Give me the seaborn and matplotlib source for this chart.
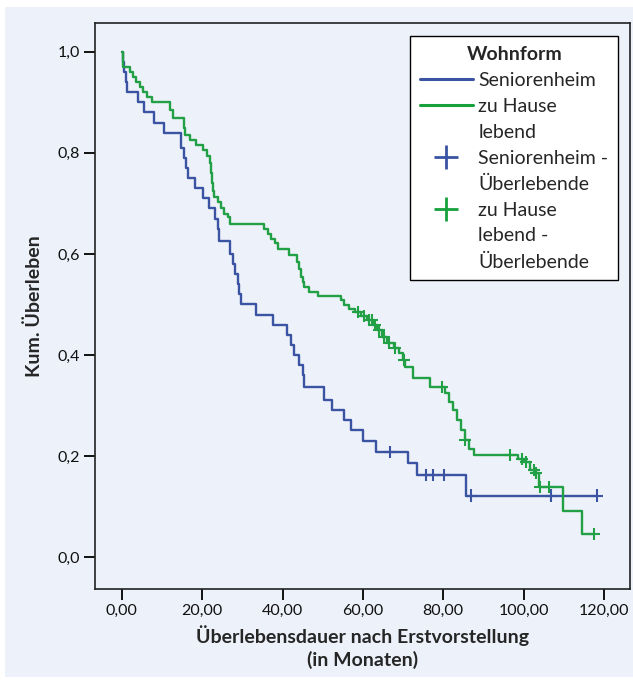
import numpy as np
import pandas as pd
import matplotlib
matplotlib.use("Agg")
import matplotlib.pyplot as plt
from matplotlib.lines import Line2D
from matplotlib.patches import Rectangle
import seaborn as sns

# ---- data ----
groups = ["Seniorenheim", "zu Hause lebend"]

heim_t = [0.0, 0.3, 0.6, 1.0, 1.2, 4.0, 5.6, 8.1, 10.6, 14.8, 15.5, 16.0, 16.5, 18.2,
          20.3, 21.6, 23.3, 23.8, 24.2, 27.0, 27.7, 28.2, 28.8, 29.2, 29.6, 33.4, 37.5,
          41.2, 42.0, 42.8, 44.2, 45.0, 45.3, 50.4, 52.4, 55.4, 57.0, 60.0, 63.2, 71.2,
          73.5, 85.7, 118.2]
heim_s = [1.0, 0.98, 0.96, 0.94, 0.92, 0.90, 0.88, 0.86, 0.84, 0.81, 0.79, 0.77, 0.75, 0.73,
          0.71, 0.69, 0.67, 0.65, 0.625, 0.60, 0.58, 0.56, 0.54, 0.52, 0.50, 0.48, 0.46,
          0.44, 0.42, 0.40, 0.38, 0.36, 0.337, 0.311, 0.291, 0.271, 0.251, 0.229, 0.209, 0.186,
          0.162, 0.122, 0.122]

haus_t = [0.0, 0.3, 2.0, 2.8, 3.6, 4.5, 5.3, 6.2, 7.5, 11.9, 12.8, 15.5, 15.8, 17.0, 18.5,
          20.2, 21.3, 22.0, 22.3, 22.5, 22.7, 23.0, 23.8, 24.7, 25.5, 26.3, 27.0, 35.5, 36.3,
          37.2, 38.0, 38.8, 41.5, 43.7, 44.0, 44.5, 45.0, 45.4, 46.6, 48.7, 54.5, 55.3, 56.5,
          58.0, 59.5, 61.0, 62.5, 63.5, 64.8, 66.0, 67.7, 69.0, 70.0, 70.5, 72.4, 76.7, 80.5,
          81.5, 82.5, 83.5, 84.5, 85.3, 86.5, 87.7, 98.7, 100.0, 101.5, 102.8, 103.8, 109.8,
          114.6, 117.5]
haus_s = [1.0, 0.97, 0.96, 0.95, 0.94, 0.93, 0.92, 0.91, 0.90, 0.885, 0.87, 0.85, 0.835, 0.825,
          0.815, 0.805, 0.793, 0.78, 0.76, 0.74, 0.725, 0.713, 0.703, 0.69, 0.68, 0.673, 0.66,
          0.65, 0.64, 0.63, 0.622, 0.61, 0.598, 0.585, 0.57, 0.555, 0.545, 0.535, 0.525, 0.517,
          0.509, 0.499, 0.492, 0.486, 0.478, 0.469, 0.459, 0.45, 0.436, 0.423, 0.413, 0.404,
          0.39, 0.377, 0.354, 0.337, 0.324, 0.308, 0.291, 0.271, 0.251, 0.232, 0.215, 0.202,
          0.195, 0.189, 0.172, 0.166, 0.139, 0.091, 0.045, 0.045]

heim_cens_t = [66.7, 75.6, 77.5, 80.2, 86.9, 106.8, 118.2]
heim_cens_s = [0.209, 0.162, 0.162, 0.162, 0.122, 0.122, 0.122]

haus_cens_t = [58.8, 60.3, 61.5, 62.2, 63.0, 64.0, 65.3, 66.5, 68.0, 70.2, 79.6, 85.5,
               96.7, 99.5, 100.6, 102.5, 103.0, 104.1, 106.4, 117.5]
haus_cens_s = [0.486, 0.478, 0.469, 0.469, 0.459, 0.45, 0.436, 0.423, 0.413, 0.39, 0.337,
               0.232, 0.202, 0.195, 0.189, 0.172, 0.166, 0.139, 0.139, 0.045]

x_ticks = [0, 20, 40, 60, 80, 100, 120]
x_ticklabels = ["0,00", "20,00", "40,00", "60,00", "80,00", "100,00", "120,00"]
y_ticks = [0.0, 0.2, 0.4, 0.6, 0.8, 1.0]
y_ticklabels = ["0,0", "0,2", "0,4", "0,6", "0,8", "1,0"]

legend_title = "Wohnform"
# each legend entry is given line by line (wrapped as in the original)
legend_labels = [["Seniorenheim"], ["zu Hause", "lebend"], ["Seniorenheim -", "Überlebende"],
                 ["zu Hause", "lebend -", "Überlebende"]]
x_label = "Überlebensdauer nach Erstvorstellung\n(in Monaten)"
y_label = "Kum. Überleben"

# ---- styling ----
BLUE = "#3a53a2"
GREEN = "#22a045"
BG = "#edf1f9"
palette = {groups[0]: BLUE, groups[1]: GREEN}

sns.set_theme(style="white")
plt.rcParams["font.family"] = ["Lato", "DejaVu Sans"]

curves = pd.concat([
    pd.DataFrame({"t": heim_t, "s": heim_s, "g": groups[0]}),
    pd.DataFrame({"t": haus_t, "s": haus_s, "g": groups[1]}),
], ignore_index=True)
cens = pd.concat([
    pd.DataFrame({"t": heim_cens_t, "s": heim_cens_s, "g": groups[0]}),
    pd.DataFrame({"t": haus_cens_t, "s": haus_cens_s, "g": groups[1]}),
], ignore_index=True)

fig = plt.figure(figsize=(6.33, 6.83), dpi=100, facecolor="white")
fig.patches.append(Rectangle((5 / 633, 6 / 683), 1 - 5 / 633, 1 - 13 / 683,
                             transform=fig.transFigure, facecolor=BG, edgecolor="none",
                             zorder=-10))
ax = fig.add_axes([95 / 633, 1 - 589 / 683, 535 / 633, 566 / 683])
ax.set_facecolor(BG)

sns.lineplot(data=curves, x="t", y="s", hue="g", palette=palette, drawstyle="steps-post",
             estimator=None, sort=False, linewidth=1.7, legend=False, ax=ax)
sns.scatterplot(data=cens, x="t", y="s", hue="g", palette=palette, marker="+", s=75,
                linewidth=1.5, legend=False, ax=ax, zorder=3)

ax.set_xlim(-6.7, 126.5)
ax.set_ylim(-0.063, 1.057)
ax.set_xticks(x_ticks)
ax.set_xticklabels(x_ticklabels)
ax.set_yticks(y_ticks)
ax.set_yticklabels(y_ticklabels)
ax.tick_params(axis="both", direction="out", length=8, width=1.3, color="black",
               labelsize=11.5, labelcolor="#111111", pad=3, bottom=True, left=True)
for sp in ax.spines.values():
    sp.set_color("#222222")
    sp.set_linewidth(1.2)

ax.set_xlabel(x_label, fontsize=14, fontweight="bold", labelpad=5, linespacing=1.3)
ax.set_ylabel(y_label, fontsize=14, fontweight="bold", labelpad=10)

entry_handles = [
    Line2D([], [], color=BLUE, lw=2.2),
    Line2D([], [], color="#16a03c", lw=2.2),
    Line2D([], [], color=BLUE, lw=0, marker="+", markersize=17, mew=2.0),
    Line2D([], [], color="#16a03c", lw=0, marker="+", markersize=17, mew=2.0),
]
handles, labels = [], []
for h, lines in zip(entry_handles, legend_labels):
    for i, line in enumerate(lines):
        handles.append(h if i == 0 else Line2D([], [], lw=0))
        labels.append(line)

leg = ax.legend(handles, labels, title=legend_title, loc="upper right",
                bbox_to_anchor=(0.978, 0.977), borderaxespad=0, frameon=True,
                fancybox=False, edgecolor="black", facecolor="white", framealpha=1,
                fontsize=14, title_fontproperties={"weight": "bold", "size": 14},
                handlelength=2.7, handletextpad=0.3, labelspacing=0.46,
                borderpad=0.5)
leg.get_frame().set_linewidth(1.0)

fig.savefig("out.png", dpi=100, facecolor="white")
